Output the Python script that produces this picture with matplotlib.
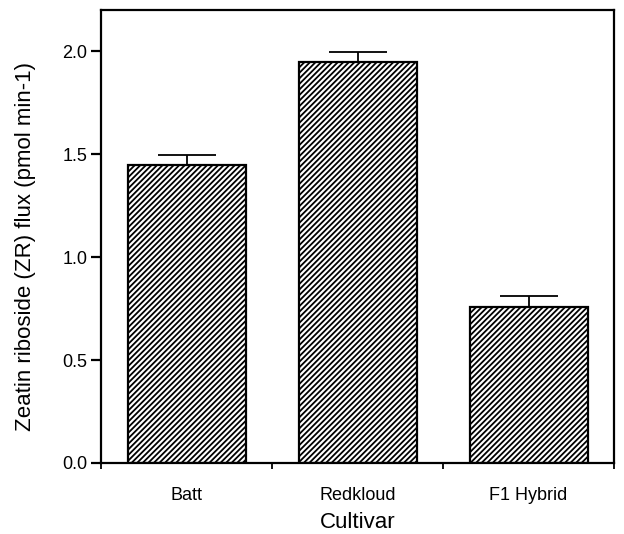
import numpy as np
import matplotlib
matplotlib.use("Agg")
import matplotlib.pyplot as plt

plt.rcParams['font.family'] = ['Liberation Sans', 'DejaVu Sans']
plt.rcParams['hatch.linewidth'] = 1.3

# data
cultivars = ["Batt", "Redkloud", "F1 Hybrid"]
zr_flux = [1.45, 1.95, 0.757]
zr_err = [0.045, 0.045, 0.055]

fig = plt.figure(figsize=(6.24, 5.34), dpi=100)
ax = fig.add_axes([0.162, 0.133, 0.822, 0.848])

x = np.arange(len(cultivars))
ax.bar(x, zr_flux, width=0.69, color="white", edgecolor="black",
       linewidth=1.6, hatch="//////", zorder=2)
ax.errorbar(x, zr_flux, yerr=[np.zeros(len(zr_err)), zr_err], fmt="none",
            ecolor="black", elinewidth=1.3, capsize=21, capthick=1.3, zorder=3)

ax.set_xlim(-0.5, 2.5)
ax.set_ylim(0, 2.2)
ax.set_yticks([0.0, 0.5, 1.0, 1.5, 2.0])
ax.set_yticklabels(["0.0", "0.5", "1.0", "1.5", "2.0"], fontsize=13)

# boundary ticks on x, labels centered under bars
ax.set_xticks([-0.5, 0.5, 1.5, 2.5])
ax.set_xticklabels([])
ax.set_xticks(x, minor=True)
ax.set_xticklabels(cultivars, minor=True, fontsize=13)
ax.tick_params(axis="x", which="minor", length=0, pad=17)
ax.tick_params(axis="x", which="major", direction="out", length=4, width=1.3)
ax.tick_params(axis="y", direction="out", length=7, width=1.6, pad=3)

for s in ax.spines.values():
    s.set_linewidth(1.6)

ax.set_xlabel("Cultivar", fontsize=16, labelpad=6)
ax.set_ylabel("Zeatin riboside (ZR) flux (pmol min-1)", fontsize=16, labelpad=20)
ax.yaxis.set_label_coords(-0.127, 0.477)

fig.savefig("out.png", dpi=100)
